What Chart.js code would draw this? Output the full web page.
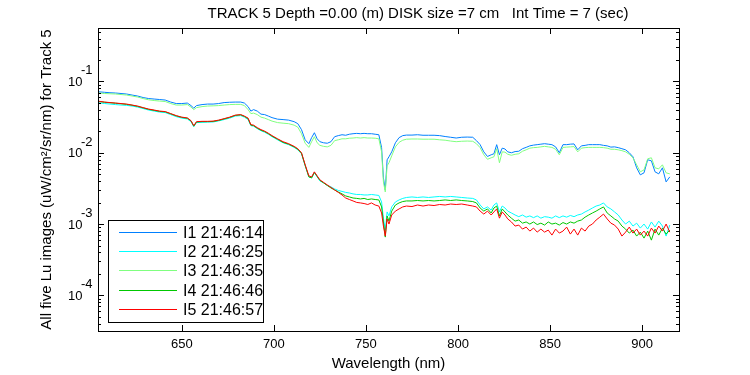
<!DOCTYPE html>
<html lang="en">
<head>
<meta charset="UTF-8">
<title>Track 5 - Lu images</title>
<script src="https://cdn.jsdelivr.net/npm/chart.js"></script>
<style>
  body { margin: 0; background: #ffffff; }
  #wrap { width: 750px; height: 375px; }
</style>
</head>
<body>
<div id="wrap"><canvas id="luChart" width="750" height="375"></canvas></div>
<script>
// wavelengths (nm), shared by the five spectra
const wavelengths = [
  605, 608, 611, 614, 617, 620, 623, 626, 629, 632,
  635, 638, 641, 644, 647, 650, 653, 655, 656.5, 658,
  661, 664, 667, 670, 673, 676, 679, 682, 684, 686,
  687.5, 689, 691, 693, 695, 697, 699, 702, 705, 708,
  711, 713, 715, 717, 719, 720.5, 722, 723.5, 725, 727,
  729, 731, 733, 735, 737, 739, 741, 743, 745, 747,
  749, 751, 753, 755, 757, 758.5, 759.5, 760.5, 761.5, 762.5,
  764, 766, 768, 770, 772, 775, 778, 781, 784, 787,
  790, 793, 796, 799, 802, 805, 808, 810, 812, 814,
  816, 818, 819.5, 821, 822.5, 824, 825.5, 827, 829, 831,
  833, 835, 837, 839, 841, 843, 845, 847, 849, 851,
  853, 855, 857, 859, 861, 863, 865, 867, 869, 871,
  873, 875, 877, 879, 881, 883, 885, 887, 889, 891,
  893, 895, 897, 899, 901, 903, 905, 907, 909, 911,
  913, 915
];

// Lu (uW/cm2/sr/nm) for each image
const lu1 = [
  0.0716, 0.0705, 0.0695, 0.0689, 0.0678, 0.0667, 0.0645, 0.0625, 0.0595, 0.0576,
  0.0567, 0.0558, 0.0549, 0.0514, 0.0490, 0.0490, 0.0498, 0.0459, 0.0423, 0.0459,
  0.0474, 0.0482, 0.0482, 0.0490, 0.0506, 0.0511, 0.0514, 0.0514, 0.0498, 0.0444,
  0.0384, 0.0403, 0.0384, 0.0348, 0.0343, 0.0327, 0.0311, 0.0296, 0.0292, 0.0287,
  0.0273, 0.0256, 0.0211, 0.0152, 0.0134, 0.0163, 0.0191, 0.0157, 0.0143, 0.0138,
  0.0136, 0.0143, 0.0168, 0.0174, 0.0179, 0.0176, 0.0182, 0.0185, 0.0187, 0.0185,
  0.0187, 0.0185, 0.0185, 0.0182, 0.0179, 0.0118, 0.00444, 0.00301, 0.00797, 0.00878,
  0.0103, 0.0138, 0.0163, 0.0174, 0.0177, 0.0177, 0.0179, 0.0176, 0.0176, 0.0176,
  0.0174, 0.0169, 0.0165, 0.0161, 0.0165, 0.0166, 0.0165, 0.0148, 0.0130, 0.0103,
  0.00887, 0.00937, 0.00968, 0.0130, 0.00937, 0.0116, 0.0113, 0.0103, 0.0100, 0.0104,
  0.0105, 0.0114, 0.0119, 0.0125, 0.0128, 0.0130, 0.0132, 0.0134, 0.0132, 0.0130,
  0.0121, 0.0100, 0.0130, 0.0130, 0.0132, 0.0133, 0.0110, 0.0125, 0.0127, 0.0130,
  0.0130, 0.0130, 0.0130, 0.0127, 0.0125, 0.0120, 0.0121, 0.0118, 0.0114, 0.0110,
  0.0100, 0.00878, 0.00615, 0.00490, 0.00523, 0.00797, 0.00771, 0.00540, 0.00506, 0.00615,
  0.00390, 0.00459
];
const lu2 = [
  0.0501, 0.0491, 0.0482, 0.0474, 0.0467, 0.0462, 0.0452, 0.0437, 0.0417, 0.0397,
  0.0384, 0.0372, 0.0366, 0.0343, 0.0321, 0.0306, 0.0298, 0.0273, 0.0232, 0.0265,
  0.0267, 0.0269, 0.0270, 0.0280, 0.0292, 0.0306, 0.0327, 0.0332, 0.0316, 0.0292,
  0.0240, 0.0236, 0.0218, 0.0204, 0.0194, 0.0182, 0.0168, 0.0152, 0.0138, 0.0130,
  0.0119, 0.0110, 0.00968, 0.00656, 0.00459, 0.00444, 0.00523, 0.00459, 0.00403, 0.00378,
  0.00348, 0.00332, 0.00311, 0.00296, 0.00287, 0.00278, 0.00273, 0.00265, 0.00260, 0.00260,
  0.00256, 0.00256, 0.00260, 0.00256, 0.00252, 0.00204, 0.00121, 0.000823, 0.00148, 0.00130,
  0.00174, 0.00204, 0.00218, 0.00229, 0.00236, 0.00240, 0.00236, 0.00240, 0.00236, 0.00240,
  0.00244, 0.00240, 0.00244, 0.00240, 0.00236, 0.00232, 0.00229, 0.00218, 0.00185, 0.00163,
  0.00174, 0.00157, 0.00185, 0.00198, 0.00148, 0.00179, 0.00168, 0.00152, 0.00143, 0.00134,
  0.00127, 0.00134, 0.00125, 0.00130, 0.00123, 0.00130, 0.00121, 0.00127, 0.00125, 0.00121,
  0.00130, 0.00123, 0.00130, 0.00125, 0.00132, 0.00127, 0.00134, 0.00138, 0.00148, 0.00157,
  0.00168, 0.00179, 0.00185, 0.00198, 0.00174, 0.00163, 0.00148, 0.00134, 0.00114, 0.00100,
  0.00110, 0.000937, 0.00103, 0.000878, 0.00100, 0.000850, 0.00107, 0.000907, 0.00110, 0.000937,
  0.000678, 0.000968
];
const lu3 = [
  0.0689, 0.0678, 0.0672, 0.0667, 0.0656, 0.0645, 0.0625, 0.0605, 0.0576, 0.0553,
  0.0540, 0.0531, 0.0523, 0.0490, 0.0467, 0.0467, 0.0474, 0.0437, 0.0403, 0.0430,
  0.0444, 0.0452, 0.0455, 0.0459, 0.0467, 0.0474, 0.0477, 0.0477, 0.0459, 0.0403,
  0.0354, 0.0360, 0.0343, 0.0316, 0.0306, 0.0292, 0.0278, 0.0265, 0.0260, 0.0256,
  0.0244, 0.0229, 0.0185, 0.0136, 0.0119, 0.0143, 0.0168, 0.0138, 0.0127, 0.0123,
  0.0121, 0.0127, 0.0148, 0.0152, 0.0157, 0.0157, 0.0160, 0.0161, 0.0163, 0.0161,
  0.0163, 0.0161, 0.0161, 0.0160, 0.0157, 0.0103, 0.00390, 0.00282, 0.00656, 0.00723,
  0.00907, 0.0121, 0.0140, 0.0150, 0.0155, 0.0156, 0.0156, 0.0155, 0.0155, 0.0155,
  0.0152, 0.0150, 0.0146, 0.0143, 0.0145, 0.0146, 0.0145, 0.0134, 0.0118, 0.00937,
  0.00810, 0.00850, 0.00878, 0.0114, 0.00723, 0.0103, 0.0102, 0.00953, 0.00922, 0.00953,
  0.00968, 0.0105, 0.0110, 0.0116, 0.0118, 0.0119, 0.0121, 0.0123, 0.0121, 0.0119,
  0.0112, 0.00937, 0.0119, 0.0120, 0.0121, 0.0122, 0.0103, 0.0116, 0.0118, 0.0119,
  0.0119, 0.0119, 0.0119, 0.0118, 0.0116, 0.0112, 0.0112, 0.0110, 0.0107, 0.0103,
  0.00953, 0.00850, 0.00678, 0.00540, 0.00576, 0.00823, 0.00850, 0.00615, 0.00595, 0.00678,
  0.00523, 0.00506
];
const lu4 = [
  0.0523, 0.0511, 0.0503, 0.0495, 0.0487, 0.0477, 0.0464, 0.0447, 0.0426, 0.0406,
  0.0393, 0.0380, 0.0375, 0.0351, 0.0329, 0.0313, 0.0305, 0.0280, 0.0236, 0.0270,
  0.0273, 0.0273, 0.0275, 0.0284, 0.0298, 0.0313, 0.0334, 0.0340, 0.0323, 0.0301,
  0.0244, 0.0240, 0.0221, 0.0207, 0.0198, 0.0185, 0.0171, 0.0155, 0.0140, 0.0132,
  0.0121, 0.0112, 0.00984, 0.00667, 0.00459, 0.00444, 0.00531, 0.00467, 0.00410, 0.00378,
  0.00348, 0.00321, 0.00301, 0.00282, 0.00265, 0.00248, 0.00240, 0.00232, 0.00229, 0.00225,
  0.00229, 0.00221, 0.00225, 0.00221, 0.00218, 0.00174, 0.00107, 0.000656, 0.00130, 0.00110,
  0.00152, 0.00185, 0.00198, 0.00207, 0.00211, 0.00211, 0.00214, 0.00211, 0.00214, 0.00211,
  0.00214, 0.00218, 0.00214, 0.00218, 0.00214, 0.00211, 0.00207, 0.00198, 0.00168, 0.00152,
  0.00163, 0.00143, 0.00168, 0.00179, 0.00130, 0.00163, 0.00148, 0.00134, 0.00121, 0.00110,
  0.00114, 0.00103, 0.00107, 0.00100, 0.00107, 0.000984, 0.00103, 0.000968, 0.00107, 0.00100,
  0.00103, 0.000968, 0.00105, 0.00100, 0.00107, 0.00103, 0.00110, 0.00114, 0.00125, 0.00134,
  0.00143, 0.00152, 0.00163, 0.00174, 0.00143, 0.00130, 0.00118, 0.00110, 0.000937, 0.000850,
  0.000747, 0.000823, 0.000678, 0.000771, 0.000635, 0.000797, 0.000595, 0.000850, 0.000700, 0.000878,
  0.000723, 0.000823
];
const lu5 = [
  0.0528, 0.0514, 0.0506, 0.0498, 0.0490, 0.0482, 0.0467, 0.0452, 0.0430, 0.0410,
  0.0397, 0.0384, 0.0378, 0.0354, 0.0332, 0.0316, 0.0308, 0.0282, 0.0240, 0.0273,
  0.0276, 0.0276, 0.0278, 0.0287, 0.0301, 0.0316, 0.0337, 0.0343, 0.0327, 0.0306,
  0.0248, 0.0244, 0.0225, 0.0211, 0.0201, 0.0188, 0.0174, 0.0157, 0.0143, 0.0134,
  0.0123, 0.0114, 0.0100, 0.00678, 0.00474, 0.00459, 0.00540, 0.00474, 0.00417, 0.00384,
  0.00354, 0.00327, 0.00301, 0.00278, 0.00256, 0.00232, 0.00221, 0.00211, 0.00201, 0.00198,
  0.00194, 0.00188, 0.00198, 0.00185, 0.00179, 0.00143, 0.000937, 0.000678, 0.00118, 0.00100,
  0.00134, 0.00152, 0.00163, 0.00174, 0.00179, 0.00176, 0.00185, 0.00179, 0.00185, 0.00182,
  0.00188, 0.00185, 0.00191, 0.00188, 0.00191, 0.00185, 0.00179, 0.00174, 0.00152, 0.00138,
  0.00152, 0.00134, 0.00148, 0.00163, 0.00121, 0.00148, 0.00134, 0.00118, 0.00107, 0.000937,
  0.000968, 0.000850, 0.000907, 0.000797, 0.000878, 0.000771, 0.000850, 0.000771, 0.000823, 0.000700,
  0.000850, 0.000747, 0.000797, 0.000907, 0.000723, 0.000850, 0.000700, 0.000878, 0.000797, 0.000937,
  0.00100, 0.00114, 0.00125, 0.00138, 0.00118, 0.00103, 0.000968, 0.000850, 0.000678, 0.000771,
  0.000907, 0.000747, 0.000850, 0.000700, 0.000797, 0.000678, 0.000878, 0.000747, 0.000937, 0.000797,
  0.00100, 0.000771
];

const seriesLabels = ['I1 21:46:14', 'I2 21:46:25', 'I3 21:46:35', 'I4 21:46:46', 'I5 21:46:57'];
const seriesColors = ['#0080ff', '#00ffff', '#80ff80', '#00c800', '#ff0000'];
const xTicks = [650, 700, 750, 800, 850, 900];
const yDecades = [-4, -3, -2, -1];

const titleText = 'TRACK 5 Depth =0.00 (m) DISK size =7 cm   Int Time = 7 (sec)';
const FONT = '"Liberation Sans", Arial, sans-serif';

Chart.defaults.font.family = FONT;
Chart.defaults.color = '#000000';

const allSeries = [lu1, lu2, lu3, lu4, lu5];
const datasets = allSeries.map(function(vals, s) {
    return {
        label: seriesLabels[s],
        data: wavelengths.map(function(w, i) { return {x: w, y: vals[i]}; }),
        borderColor: seriesColors[s],
        borderWidth: 1,
        pointRadius: 0,
        tension: 0,
        fill: false,
        order: 5 - s   // I5 drawn on top, like the original
    };
});

// box, inward ticks, y labels with exponents, legend and title
const matlabFrame = {
    id: 'matlabFrame',
    afterDraw(chart) {
        const ctx = chart.ctx;
        const a = chart.chartArea;
        const x = chart.scales.x;
        const y = chart.scales.y;
        ctx.save();
        ctx.strokeStyle = '#000000';
        ctx.lineWidth = 1;
        ctx.strokeRect(a.left + 0.5, a.top + 0.5, a.right - a.left, a.bottom - a.top);

        ctx.beginPath();
        xTicks.forEach(function(v) {
            const px = Math.round(x.getPixelForValue(v)) + 0.5;
            ctx.moveTo(px, a.bottom); ctx.lineTo(px, a.bottom - 6);
            ctx.moveTo(px, a.top); ctx.lineTo(px, a.top + 6);
        });
        for (let k = -5; k <= 0; k++) {
            for (let m = 1; m <= 9; m++) {
                const val = m * Math.pow(10, k);
                if (val < y.min || val > y.max) continue;
                const py = Math.round(y.getPixelForValue(val)) + 0.5;
                const len = m === 1 ? 6 : 3;
                ctx.moveTo(a.left, py); ctx.lineTo(a.left + len, py);
                ctx.moveTo(a.right, py); ctx.lineTo(a.right - len, py);
            }
        }
        ctx.stroke();

        // y tick labels: 10 with a raised exponent
        ctx.fillStyle = '#000000';
        ctx.font = '13px ' + FONT;
        ctx.textAlign = 'left';
        ctx.textBaseline = 'alphabetic';
        yDecades.forEach(function(d) {
            const py = y.getPixelForValue(Math.pow(10, d));
            ctx.fillText('10', 68, py + 4.7);
            ctx.fillText(String(d), 81, py - 7);
        });

        // legend
        const lx = 108, ly = 220, lw = 155, lh = 102;
        ctx.fillStyle = '#ffffff';
        ctx.fillRect(lx, ly, lw, lh);
        ctx.strokeRect(lx + 0.5, ly + 0.5, lw, lh);
        ctx.font = '16px ' + FONT;
        seriesLabels.forEach(function(lab, i) {
            const ry = Math.round(232 + i * 19.2) + 0.5;
            ctx.strokeStyle = seriesColors[i];
            ctx.beginPath();
            ctx.moveTo(119, ry); ctx.lineTo(177, ry);
            ctx.stroke();
            ctx.fillStyle = '#000000';
            ctx.fillText(lab, 183, ry + 5.7);
        });

        // title
        ctx.font = '15px ' + FONT;
        ctx.textAlign = 'center';
        ctx.fillText(titleText, 418, 18);
        ctx.restore();
    }
};

new Chart(document.getElementById('luChart'), {
    type: 'line',
    data: { datasets: datasets },
    options: {
        responsive: false,
        animation: false,
        devicePixelRatio: 1,
        layout: { padding: { left: 0, right: 71, top: 28, bottom: 0 } },
        plugins: {
            legend: { display: false },
            tooltip: { enabled: false }
        },
        scales: {
            x: {
                type: 'linear',
                min: 604.5,
                max: 920,
                afterFit: function(scale) { scale.height = 44; },
                grid: { display: false, drawTicks: false },
                border: { display: false },
                ticks: {
                    stepSize: 50,
                    includeBounds: false,
                    padding: 6,
                    font: { size: 13 },
                    color: '#000000'
                },
                title: {
                    display: true,
                    text: 'Wavelength (nm)',
                    font: { size: 15 },
                    color: '#000000',
                    padding: { top: 0, bottom: 2 }
                }
            },
            y: {
                type: 'logarithmic',
                min: Math.pow(10, -4.5),
                max: Math.pow(10, -0.25),
                afterFit: function(scale) { scale.width = 98; },
                grid: { display: false, drawTicks: false },
                border: { display: false },
                ticks: { display: false },
                title: {
                    display: true,
                    text: 'All five Lu images (uW/cm²/sr/nm) for Track 5',
                    font: { size: 15 },
                    color: '#000000',
                    padding: { top: 38, bottom: 0 }
                }
            }
        }
    },
    plugins: [matlabFrame]
});
</script>
</body>
</html>
